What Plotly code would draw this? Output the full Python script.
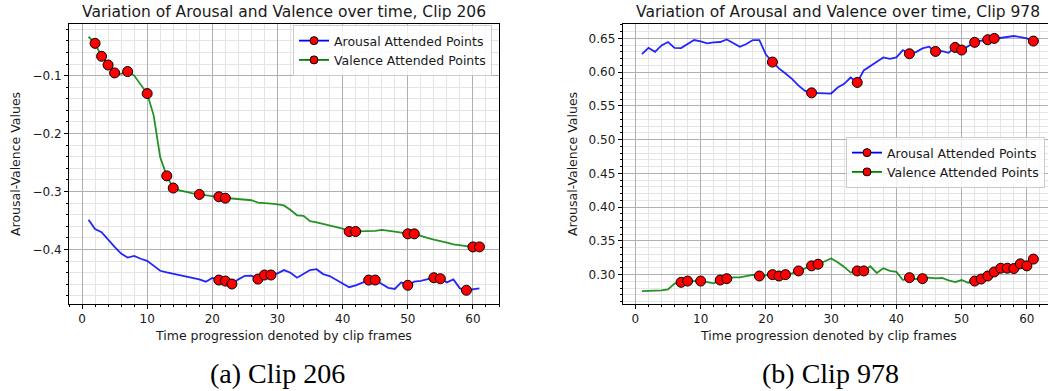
import plotly.graph_objects as go

frames = list(range(1, 62))

# Clip 206
arousal_206 = [-0.3485, -0.3647, -0.370, -0.383, -0.3955, -0.407, -0.414, -0.411, -0.416, -0.4195,
               -0.4275, -0.4367, -0.4395, -0.442, -0.444, -0.4465, -0.449, -0.4515, -0.4555, -0.449,
               -0.4527, -0.4544, -0.4595, -0.4515, -0.4453, -0.445, -0.451, -0.444, -0.444, -0.441,
               -0.4355, -0.440, -0.4487, -0.4424, -0.4355, -0.434, -0.4424, -0.4458, -0.452, -0.458,
               -0.465, -0.4617, -0.457, -0.4527, -0.4527, -0.460, -0.466, -0.468, -0.4567, -0.4617,
               -0.4555, -0.454, -0.4515, -0.4487, -0.4504, -0.4567, -0.4515, -0.467, -0.4703, -0.468,
               -0.467]
valence_206 = [-0.033, -0.0444, -0.0667, -0.0817, -0.0954, -0.097, -0.093, -0.100, -0.115, -0.131,
               -0.169, -0.241, -0.273, -0.294, -0.298, -0.301, -0.303, -0.305, -0.307, -0.308,
               -0.309, -0.3115, -0.312, -0.313, -0.313, -0.315, -0.319, -0.3205, -0.321, -0.322,
               -0.324, -0.332, -0.341, -0.342, -0.351, -0.353, -0.356, -0.359, -0.362, -0.364,
               -0.369, -0.369, -0.369, -0.369, -0.368, -0.366, -0.367, -0.369, -0.371, -0.373,
               -0.373, -0.377, -0.380, -0.383, -0.385, -0.388, -0.391, -0.393, -0.394, -0.3955,
               -0.3955]
arousal_att_206 = [21, 22, 23, 27, 28, 29, 44, 45, 50, 54, 55, 59]
valence_att_206 = [2, 3, 4, 5, 7, 10, 13, 14, 18, 21, 22, 41, 42, 50, 51, 60, 61]

# Clip 978
arousal_978 = [0.6267, 0.636, 0.630, 0.6396, 0.6446, 0.636, 0.6356, 0.641, 0.6475, 0.6455,
               0.6426, 0.644, 0.6446, 0.6485, 0.6436, 0.6376, 0.6416, 0.6475, 0.6475, 0.626,
               0.6149, 0.6055, 0.598, 0.590, 0.580, 0.5723, 0.5693, 0.569, 0.5688, 0.5683,
               0.5772, 0.5827, 0.592, 0.5847, 0.6025, 0.6084, 0.6153, 0.6218, 0.6198, 0.6218,
               0.6327, 0.6272, 0.6297, 0.6351, 0.6376, 0.6307, 0.6312, 0.6287, 0.6366, 0.6327,
               0.6386, 0.6441, 0.6465, 0.648, 0.650, 0.6515, 0.6525, 0.6535, 0.652, 0.650,
               0.646]
valence_978 = [0.2756, 0.276, 0.276, 0.2766, 0.2781, 0.2866, 0.2886, 0.2905, 0.2905, 0.2905,
               0.289, 0.287, 0.292, 0.294, 0.296, 0.296, 0.298, 0.2995, 0.298, 0.299,
               0.300, 0.298, 0.300, 0.302, 0.3055, 0.3095, 0.313, 0.3154, 0.320, 0.3239,
               0.3184, 0.3114, 0.303, 0.3055, 0.3055, 0.3124, 0.3025, 0.3095, 0.3055, 0.304,
               0.292, 0.2955, 0.2935, 0.294, 0.2955, 0.2945, 0.295, 0.2915, 0.289, 0.292,
               0.288, 0.2905, 0.2935, 0.298, 0.304, 0.3095, 0.3095, 0.309, 0.316, 0.313,
               0.323]
arousal_att_978 = [21, 27, 34, 42, 46, 49, 50, 52, 54, 55, 61]
valence_att_978 = [7, 8, 10, 13, 14, 19, 21, 22, 23, 25, 27, 28, 34, 35, 42, 44,
                   52, 53, 54, 55, 56, 57, 58, 59, 60, 61]

titles = ["Variation of Arousal and Valence over time, Clip 206",
          "Variation of Arousal and Valence over time, Clip 978"]
captions = ["(a) Clip 206", "(b) Clip 978"]
xlabel = "Time progression denoted by clip frames"
ylabel = "Arousal-Valence Values"
legend_names = ["Arousal Attended Points", "Valence Attended Points"]

W, H = 1048, 391
BLUE = "#0000ff"
GREEN = "#008000"
FONT = "DejaVu Sans"
TXT = "#1a1a1a"

fig = go.Figure()

def px_x(p):
    return p / W

def px_y(p):
    return 1 - p / H

panels = [
    dict(xa="x", ya="y", ar=arousal_206, va=valence_206, aa=arousal_att_206, vat=valence_att_206, leg="legend"),
    dict(xa="x2", ya="y2", ar=arousal_978, va=valence_978, aa=arousal_att_978, vat=valence_att_978, leg="legend2"),
]

marker_style = dict(color="red", size=10, line=dict(color="black", width=1))
for p in panels:
    for series, att, col, name in [(p["ar"], p["aa"], BLUE, legend_names[0]),
                                   (p["va"], p["vat"], GREEN, legend_names[1])]:
        fig.add_trace(go.Scatter(x=frames, y=series, mode="lines", xaxis=p["xa"], yaxis=p["ya"],
                                 line=dict(color=col, width=1.8), showlegend=False, opacity=0.85))
        fig.add_trace(go.Scatter(x=att, y=[series[f - 1] for f in att], mode="markers",
                                 xaxis=p["xa"], yaxis=p["ya"], marker=marker_style, showlegend=False))
    for col, name in [(BLUE, legend_names[0]), (GREEN, legend_names[1])]:
        fig.add_trace(go.Scatter(x=[None], y=[None], mode="lines+markers", name=name,
                                 xaxis=p["xa"], yaxis=p["ya"], legend=p["leg"],
                                 line=dict(color=col, width=1.8),
                                 marker=dict(color="red", size=8, line=dict(color="black", width=1))))

ydom = [px_y(304), px_y(24)]
common_x = dict(dtick=10, tick0=0, ticks="outside", ticklen=4, tickwidth=1, tickcolor="black",
                showline=True, linecolor="black", linewidth=1, showgrid=True, gridcolor="#b0b0b0",
                gridwidth=0.8, zeroline=False, tickfont=dict(family=FONT, size=12, color=TXT),
                minor=dict(dtick=2, tick0=0, ticks="outside", ticklen=2, tickcolor="black",
                           showgrid=True, gridcolor="#e4e4e4", gridwidth=0.6))
common_y = dict(ticks="outside", ticklen=4, tickwidth=1, tickcolor="black",
                showline=True, linecolor="black", linewidth=1, showgrid=True, gridcolor="#b0b0b0",
                gridwidth=0.8, zeroline=False, tickfont=dict(family=FONT, size=12, color=TXT))

fig.update_layout(
    width=W, height=H, margin=dict(l=0, r=0, t=0, b=0),
    paper_bgcolor="white", plot_bgcolor="white",
    xaxis=dict(common_x, domain=[px_x(69), px_x(499)], range=[-2, 64], mirror=True, anchor="y"),
    yaxis=dict(common_y, domain=ydom, range=[-0.494, -0.011], dtick=0.1, tick0=0, mirror=True,
               tickformat=".1f", anchor="x",
               minor=dict(dtick=0.02, tick0=0, ticks="outside", ticklen=2, tickcolor="black",
                          showgrid=True, gridcolor="#e4e4e4", gridwidth=0.6)),
    xaxis2=dict(common_x, domain=[px_x(622.7), 1.0], range=[-1.95, 63.24], mirror=True, anchor="y2"),
    yaxis2=dict(common_y, domain=ydom, range=[0.2565, 0.6713], dtick=0.05, tick0=0,
                tickformat=".2f", anchor="x2",
                minor=dict(dtick=0.01, tick0=0, ticks="outside", ticklen=2, tickcolor="black",
                           showgrid=True, gridcolor="#e4e4e4", gridwidth=0.6)),
    legend=dict(x=px_x(492), y=px_y(25), xanchor="right", yanchor="top",
                bgcolor="rgba(255,255,255,0.8)", bordercolor="#cccccc", borderwidth=1,
                font=dict(family=FONT, size=12.5, color=TXT), tracegroupgap=0),
    legend2=dict(x=px_x(1045), y=px_y(137), xanchor="right", yanchor="top",
                 bgcolor="rgba(255,255,255,0.8)", bordercolor="#cccccc", borderwidth=1,
                 font=dict(family=FONT, size=12.5, color=TXT), tracegroupgap=0),
)

ann = []
for cx, title in zip([284, 838], titles):
    ann.append(dict(x=px_x(cx), y=px_y(12), text=title, showarrow=False, xref="paper", yref="paper",
                    xanchor="center", yanchor="middle", font=dict(family=FONT, size=15.5, color=TXT)))
for cx in [283, 828]:
    ann.append(dict(x=px_x(cx), y=px_y(335), text=xlabel, showarrow=False, xref="paper", yref="paper",
                    xanchor="center", yanchor="middle", font=dict(family=FONT, size=12.5, color=TXT)))
for cx in [15, 572]:
    ann.append(dict(x=px_x(cx), y=px_y(164), text=ylabel, showarrow=False, xref="paper", yref="paper",
                    xanchor="center", yanchor="middle", textangle=-90,
                    font=dict(family=FONT, size=12.5, color=TXT)))
for cx, cap in zip([277, 830], captions):
    ann.append(dict(x=px_x(cx), y=px_y(373), text=cap, showarrow=False, xref="paper", yref="paper",
                    xanchor="center", yanchor="middle",
                    font=dict(family="Liberation Serif", size=28, color="black")))
fig.update_layout(annotations=ann)

fig.write_html("out.html")
